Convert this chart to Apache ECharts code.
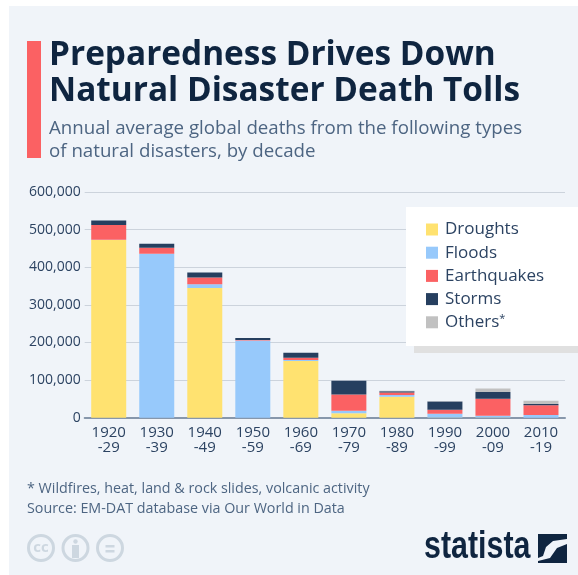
<!DOCTYPE html>
<html>
<head>
<meta charset="utf-8">
<title>Natural disaster death tolls</title>
<script src="https://cdn.jsdelivr.net/npm/echarts@6/dist/echarts.min.js"></script>
<style>
html, body { margin: 0; padding: 0; background: #fff; }
#chart { width: 578px; height: 575px; }
</style>
</head>
<body>
<div id="chart"></div>
<script>
var categories = ['1920\n-29', '1930\n-39', '1940\n-49', '1950\n-59', '1960\n-69', '1970\n-79', '1980\n-89', '1990\n-99', '2000\n-09', '2010\n-19'];
var droughts = [472600, 0, 345000, 0, 150700, 11500, 55900, 500, 300, 100];
var floods = [500, 436000, 9700, 205000, 2600, 7000, 4400, 9800, 5000, 7000];
var earthquakes = [39000, 16000, 17700, 1800, 6200, 43400, 7000, 10600, 45000, 25700];
var storms = [12400, 10600, 13300, 5300, 13300, 36400, 3000, 22000, 17700, 3500];
var others = [0, 0, 0, 0, 0, 0, 1500, 500, 9800, 9000];
var titleLines = ['Preparedness Drives Down', 'Natural Disaster Death Tolls'];
var subtitleLines = ['Annual average global deaths from the following types', 'of natural disasters, by decade'];
var footLines = ['* Wildfires, heat, land & rock slides, volcanic activity', 'Source: EM-DAT database via Our World in Data'];

var FONT = '"Open Sans", sans-serif';
var INK = '#0f2540';
var TEXT = '#2c4362';
var MUTED = '#4d6582';
var BADGE = '#cdd7e0';

function stacked(name, data, color) {
    return {
        name: name,
        type: 'bar',
        stack: 'deaths',
        barWidth: 35,
        data: data,
        itemStyle: { color: color }
    };
}

function label(x, y, text, size, color, weight) {
    return {
        type: 'text',
        x: x,
        y: y,
        z: 10,
        style: { text: text, fill: color, font: (weight || 'normal') + ' ' + size + 'px ' + FONT, textVerticalAlign: 'middle' }
    };
}

function ccRing(cx) {
    return {
        type: 'circle',
        z: 10,
        shape: { cx: cx, cy: 548, r: 12.5 },
        style: { fill: 'none', stroke: BADGE, lineWidth: 3 }
    };
}

var chart = echarts.init(document.getElementById('chart'));
chart.setOption({
    animation: false,
    backgroundColor: '#fff',
    grid: { left: 84.7, right: 13, top: 192, height: 225.7, containLabel: false },
    xAxis: {
        type: 'category',
        data: categories,
        axisTick: { show: false },
        axisLine: { lineStyle: { color: '#8797ab', width: 2 } },
        axisLabel: { color: TEXT, fontFamily: FONT, fontSize: 15, lineHeight: 14.5, margin: 8, interval: 0 }
    },
    yAxis: {
        type: 'value',
        min: 0,
        max: 600000,
        interval: 100000,
        axisLine: { show: false },
        axisTick: { show: false },
        axisLabel: {
            color: TEXT,
            fontFamily: FONT,
            fontSize: 14,
            margin: 4,
            formatter: function (v) { return v.toLocaleString('en-US'); }
        },
        splitLine: { lineStyle: { color: '#ccd3dc', width: 1 } }
    },
    legend: {
        orient: 'vertical',
        left: 421,
        top: 216,
        z: 12,
        itemWidth: 12,
        itemHeight: 12,
        itemGap: 6.2,
        icon: 'rect',
        selectedMode: false,
        textStyle: {
            color: TEXT,
            fontFamily: FONT,
            fontSize: 17,
            lineHeight: 17,
            padding: [0, 0, 0, 2],
            rich: { sup: { color: TEXT, fontFamily: FONT, fontSize: 11, lineHeight: 17, verticalAlign: 'top' } }
        },
        formatter: function (n) { return n === 'Others' ? 'Others{sup|*}' : n; },
        data: ['Droughts', 'Floods', 'Earthquakes', 'Storms', 'Others']
    },
    series: [
        stacked('Droughts', droughts, '#ffe270'),
        stacked('Floods', floods, '#97c9fb'),
        stacked('Earthquakes', earthquakes, '#fb6163'),
        stacked('Storms', storms, '#263f5f'),
        stacked('Others', others, '#c1c1c1')
    ],
    graphic: [
        { type: 'rect', z: -1, silent: true, shape: { x: 9, y: 6, width: 569, height: 569 }, style: { fill: '#f0f4f9' } },
        { type: 'rect', z: 10, shape: { x: 27, y: 41, width: 14, height: 117 }, style: { fill: '#fb6163' } },
        label(49, 55, titleLines[0], 33.4, INK, 'bold'),
        label(49, 91, titleLines[1], 33.4, INK, 'bold'),
        label(49, 129, subtitleLines[0], 18.7, MUTED),
        label(49, 152, subtitleLines[1], 18.7, MUTED),
        { type: 'rect', z: 10, shape: { x: 414, y: 346, width: 164, height: 7 }, style: { fill: '#e0e0e0' } },
        { type: 'rect', z: 11, shape: { x: 406, y: 207, width: 172, height: 139 }, style: { fill: '#fff' } },
        label(27, 489, footLines[0], 14.3, MUTED),
        label(27, 509, footLines[1], 14.3, MUTED),
        ccRing(41),
        ccRing(75.5),
        ccRing(110),
        { type: 'text', x: 41, y: 547.5, z: 10, style: { text: 'cc', fill: BADGE, font: 'bold 15px ' + FONT, textAlign: 'center', textVerticalAlign: 'middle' } },
        { type: 'circle', z: 10, shape: { cx: 75.5, cy: 541.5, r: 2.2 }, style: { fill: BADGE } },
        { type: 'rect', z: 10, shape: { x: 72, y: 545, width: 7, height: 13 }, style: { fill: BADGE } },
        { type: 'rect', z: 10, shape: { x: 105.5, y: 545, width: 9, height: 2.5 }, style: { fill: BADGE } },
        { type: 'rect', z: 10, shape: { x: 105.5, y: 550, width: 9, height: 2.5 }, style: { fill: BADGE } },
        { type: 'text', x: 424, y: 548, z: 10, scaleX: 0.8, style: { text: 'statista', fill: INK, font: 'bold 38px "Liberation Sans Narrow", sans-serif', textVerticalAlign: 'middle' } },
        { type: 'polygon', z: 10, shape: { points: [[538, 534], [567, 534], [567, 539], [553, 541], [546, 547], [543, 556], [538, 558]] }, style: { fill: INK } },
        { type: 'polygon', z: 10, shape: { points: [[567, 544], [557, 548], [550, 558], [538, 561], [538, 563], [567, 563]] }, style: { fill: INK } }
    ]
});
</script>
</body>
</html>
